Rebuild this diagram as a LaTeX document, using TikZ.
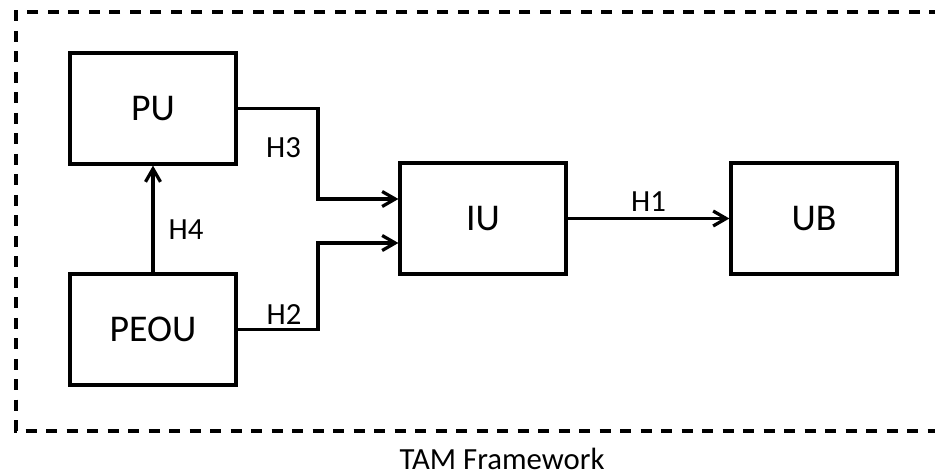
\documentclass[tikz,border=0pt]{standalone}
\usepackage{fontspec}
\setmainfont{Carlito}
\usepackage{tikz}
\usetikzlibrary{calc,positioning,arrows.meta}
\definecolor{fundo}{HTML}{FFFFFF}
\definecolor{traco}{HTML}{000000}

\begin{document}
\begin{tikzpicture}[x=0.02cm,y=-0.02cm, caixa/.style={draw=traco, line width=0.065cm, fill=fundo, minimum width=3.32cm, minimum height=2.22cm, font=\fontsize{21.5}{25}\selectfont},
  ar/.style={-{Straight Barb[length=2.6mm,width=3.0mm,line width=0.065cm]}, line width=0.065cm, draw=traco},
  rot/.style={font=\fontsize{17.5}{21}\selectfont, text=traco}]
  \useasboundingbox (0,0) rectangle (935,475);
  \draw[traco, line width=0.065cm, dash pattern=on 0.22cm off 0.19cm] (940,12) -- (16,12) -- (16,431) -- (940,431);
  \node[caixa] (pu) at (153,108.5) {PU};
  \node[caixa] (peou) at (153,329.5) {PEOU};
  \node[caixa] (iu) at (483,218.5) {IU};
  \node[caixa] (ub) at (814,218.5) {UB};
  \coordinate (in3) at ($(iu.west)+(0,-19.5)$); \coordinate (in2) at ($(iu.west)+(0,24.5)$);
  \draw[ar] (pu.east) -| ($(pu.east)!0.5!(in3)$) |- (in3);
  \draw[ar] (peou.east) -| ($(peou.east)!0.5!(in2)$) |- (in2);
  \draw[ar] (peou.north) -- (pu.south);
  \draw[ar] (iu.east) -- (ub.west);
  \node[rot] (h3) at (283.5,148) {H3};
  \node[rot] (h2) at (284,315) {H2};
  \node[rot] (h4) at (186,230) {H4};
  \node[rot] (h1) at (648.5,202) {H1};
  \node[rot, inner sep=0pt, anchor=base] (tam) at (502,469) {TAM Framework};
\end{tikzpicture}
\end{document}
